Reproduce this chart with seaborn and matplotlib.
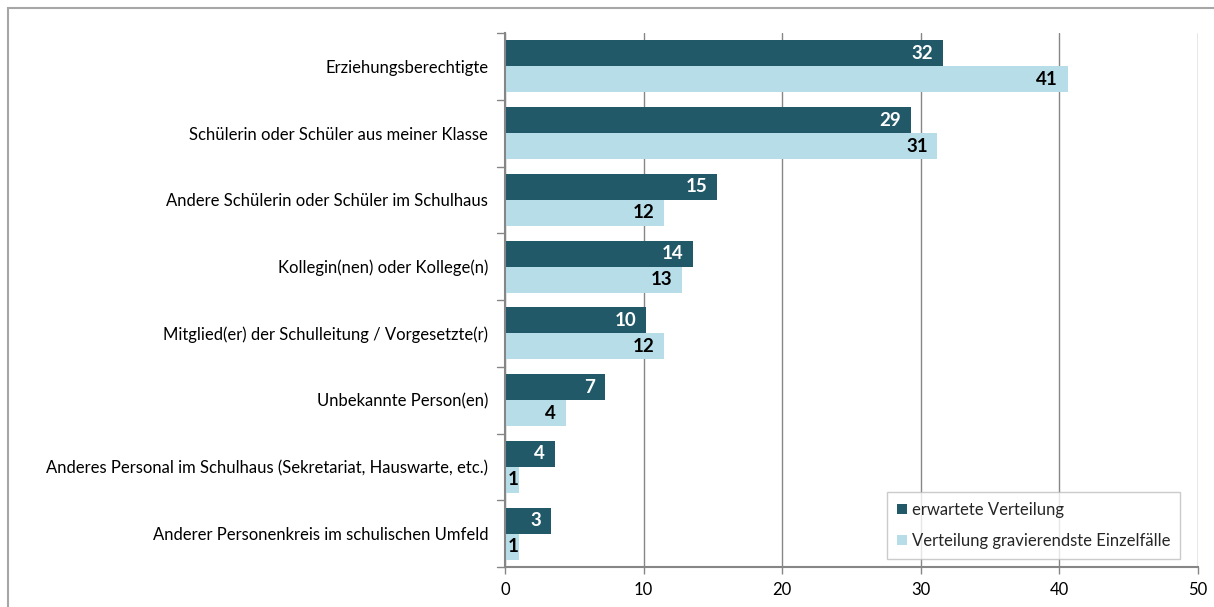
import matplotlib
matplotlib.use("Agg")
import matplotlib.pyplot as plt
import seaborn as sns
import pandas as pd
from matplotlib.patches import Rectangle

categories = [
    "Erziehungsberechtigte",
    "Schülerin oder Schüler aus meiner Klasse",
    "Andere Schülerin oder Schüler im Schulhaus",
    "Kollegin(nen) oder Kollege(n)",
    "Mitglied(er) der Schulleitung / Vorgesetzte(r)",
    "Unbekannte Person(en)",
    "Anderes Personal im Schulhaus (Sekretariat, Hauswarte, etc.)",
    "Anderer Personenkreis im schulischen Umfeld",
]
series_names = ["erwartete Verteilung", "Verteilung gravierendste Einzelfälle"]
expected = [31.6, 29.3, 15.3, 13.6, 10.2, 7.2, 3.6, 3.3]
severe = [40.6, 31.2, 11.5, 12.8, 11.5, 4.4, 1.0, 1.0]
x_ticks = [0, 10, 20, 30, 40, 50]

colors = ["#215968", "#B7DEE8"]
label_colors = ["white", "black"]

df = pd.DataFrame({
    "Kategorie": categories * 2,
    "Serie": [series_names[0]] * len(categories) + [series_names[1]] * len(categories),
    "Wert": expected + severe,
})

sns.set_theme(style="white")
plt.rcParams["font.family"] = ["Lato", "DejaVu Sans"]

fig = plt.figure(figsize=(12.14, 6.07), dpi=100)
ax = fig.add_axes([505 / 1214, 1 - 567 / 607, (1198 - 505) / 1214, (567 - 33) / 607])

sns.barplot(data=df, y="Kategorie", x="Wert", hue="Serie", order=categories,
            hue_order=series_names, palette=colors, orient="h", width=0.78,
            saturation=1, ax=ax, legend=True, edgecolor="none")

ax.set_xlim(0, 50)
ax.set_ylim(len(categories) - 0.5, -0.5)
ax.set_xticks(x_ticks)
ax.set_xticklabels([str(t) for t in x_ticks], fontsize=12, color="black")
ax.set_xlabel("")
ax.set_ylabel("")
ax.tick_params(axis="y", labelsize=12, length=0, pad=12, labelcolor="black")
ax.tick_params(axis="x", length=5, color="#868686", width=1, bottom=True, pad=6)

# category boundary ticks on y axis
for b in [i - 0.5 for i in range(len(categories) + 1)]:
    ax.plot([-0.55, 0], [b, b], color="#868686", lw=1, clip_on=False)

ax.grid(axis="x", color="#868686", lw=1)
ax.set_axisbelow(True)
for s in ["top", "right"]:
    ax.spines[s].set_visible(False)
for s in ["left", "bottom"]:
    ax.spines[s].set_color("#868686")
    ax.spines[s].set_linewidth(1.5)

px_per_unit = (1198 - 505) / 50.0
for container, lc in zip(ax.containers, label_colors):
    for rect, v in zip(container.patches, container.datavalues):
        lbl = f"{round(v):d}"
        y = rect.get_y() + rect.get_height() / 2
        txt_w = 8.5 * len(lbl)
        if v * px_per_unit - 8 - txt_w < 2:
            ax.annotate(lbl, (0, y), xytext=(2, 0), textcoords="offset points",
                        ha="left", va="center", color=lc, fontsize=13.5,
                        fontweight="bold")
        else:
            ax.annotate(lbl, (v, y), xytext=(-7, 0), textcoords="offset points",
                        ha="right", va="center", color=lc, fontsize=13.5,
                        fontweight="bold")

leg = ax.legend(loc="lower right", bbox_to_anchor=((1180 - 505) / 693, (567 - 559) / 534),
                frameon=True, fontsize=12, handlelength=0.6, handleheight=0.6,
                handletextpad=0.3, labelspacing=0.9, borderpad=0.6, fancybox=False,
                borderaxespad=0)
leg.get_frame().set_edgecolor("#BFBFBF")
leg.get_frame().set_linewidth(1)

# outer chart border
fig.patches.append(Rectangle((8 / 1214, -0.02), 1.05, 1 - 8 / 607 + 0.02,
                             transform=fig.transFigure, fill=False,
                             edgecolor="#A6A6A6", lw=1.5))

fig.savefig("out.png", dpi=100, facecolor="white")
